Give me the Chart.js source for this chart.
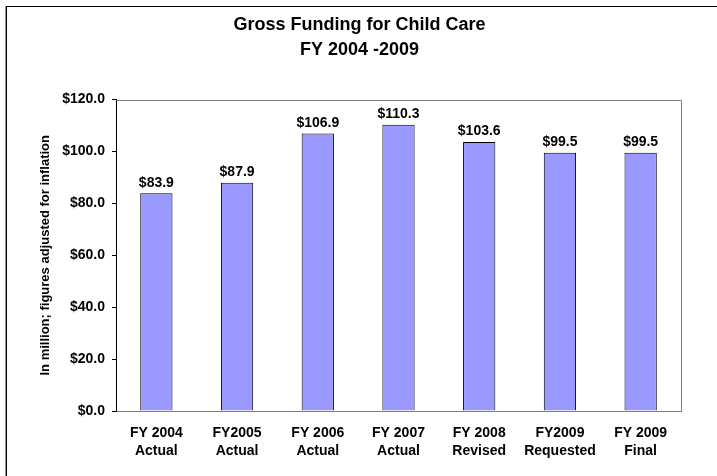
<!DOCTYPE html>
<html>
<head>
<meta charset="utf-8">
<script src="https://cdn.jsdelivr.net/npm/chart.js@4.4.1/dist/chart.umd.min.js"></script>
<style>
  html, body { margin: 0; padding: 0; background: #fff; overflow: hidden; }
  #wrap { position: relative; width: 717px; height: 476px; }
  #c { position: absolute; left: 0; top: 0; }
  #frame { position: absolute; left: 6px; top: 6px; width: 730px; height: 490px;
           border: 1px solid #000; box-shadow: -1px 0 0 #999; pointer-events: none; }
</style>
</head>
<body>
<div id="wrap">
  <canvas id="c" width="717" height="476"></canvas>
  <div id="frame"></div>
</div>
<script>
// ---- data ----
const categories = [
  ['FY 2004', 'Actual'],
  ['FY2005', 'Actual'],
  ['FY 2006', 'Actual'],
  ['FY 2007', 'Actual'],
  ['FY 2008', 'Revised'],
  ['FY2009', 'Requested'],
  ['FY 2009', 'Final']
];
const funding = [83.9, 87.9, 106.9, 110.3, 103.6, 99.5, 99.5];
const titleLines = ['Gross Funding for Child Care', 'FY 2004 -2009'];
const yAxisTitle = 'In million; figures adjusted for inflation';
const yMin = 0, yMax = 120, yStep = 20;

const FONT = '"Liberation Sans", Arial, sans-serif';

const valueLabels = {
  id: 'valueLabels',
  afterDatasetsDraw(chart) {
    const ctx = chart.ctx;
    const meta = chart.getDatasetMeta(0);
    const data = chart.data.datasets[0].data;
    ctx.save();
    ctx.font = 'bold 14px ' + FONT;
    ctx.fillStyle = '#000';
    ctx.textAlign = 'center';
    ctx.textBaseline = 'middle';
    meta.data.forEach((bar, i) => {
      ctx.fillText('$' + data[i].toFixed(1), bar.x, bar.y - 10.5);
    });
    ctx.restore();
  }
};

const plotFrame = {
  id: 'plotFrame',
  beforeDatasetsDraw(chart) {
    const a = chart.chartArea, ctx = chart.ctx;
    ctx.save();
    ctx.strokeStyle = '#808080';
    ctx.lineWidth = 1;
    ctx.beginPath();
    ctx.moveTo(Math.round(a.left) + 0.5, Math.round(a.top) + 0.5);
    ctx.lineTo(Math.round(a.right) + 0.5, Math.round(a.top) + 0.5);
    ctx.lineTo(Math.round(a.right) + 0.5, Math.round(a.bottom) + 0.5);
    ctx.stroke();
    ctx.restore();
  }
};

new Chart(document.getElementById('c'), {
  type: 'bar',
  data: {
    labels: categories,
    datasets: [{
      data: funding,
      backgroundColor: '#9999FF',
      borderColor: '#000',
      borderWidth: 1,
      barPercentage: 0.4,
      categoryPercentage: 1.0
    }]
  },
  options: {
    responsive: false,
    devicePixelRatio: 1,
    animation: false,
    layout: { padding: { left: 2, right: 0, top: 6, bottom: 0 } },
    plugins: {
      legend: { display: false },
      tooltip: { enabled: false },
      title: {
        display: true,
        text: titleLines,
        color: '#000',
        font: { family: FONT, size: 18, weight: 'bold', lineHeight: 1.39 },
        padding: { top: 6.5, bottom: 37 }
      }
    },
    scales: {
      x: {
        grid: { display: false, drawTicks: false },
        border: { color: '#808080', width: 1 },
        ticks: {
          color: '#000',
          autoSkip: false,
          maxRotation: 0,
          padding: 12.7,
          font: { family: FONT, size: 14, weight: 'bold', lineHeight: 1.286 }
        },
        afterFit(s) { s.height = 65; }
      },
      y: {
        min: yMin, max: yMax,
        grid: { drawOnChartArea: false, drawTicks: true, tickLength: 4, tickColor: '#000' },
        border: { color: '#000', width: 1 },
        ticks: {
          stepSize: yStep,
          color: '#000',
          padding: 7,
          font: { family: FONT, size: 14, weight: 'bold' },
          callback: v => '$' + Number(v).toFixed(1)
        },
        title: {
          display: true,
          text: yAxisTitle,
          color: '#000',
          font: { family: FONT, size: 13, weight: 'bold', lineHeight: 1.2 },
          padding: { top: 35.2, bottom: 0 }
        },
        afterFit(s) { s.width = 114; }
      },
      y2: {
        position: 'right',
        display: true,
        min: 0, max: 1,
        grid: { display: false, drawTicks: false },
        border: { display: false },
        ticks: { display: false },
        afterFit(s) { s.width = 36; }
      }
    }
  },
  plugins: [plotFrame, valueLabels]
});
</script>
</body>
</html>
